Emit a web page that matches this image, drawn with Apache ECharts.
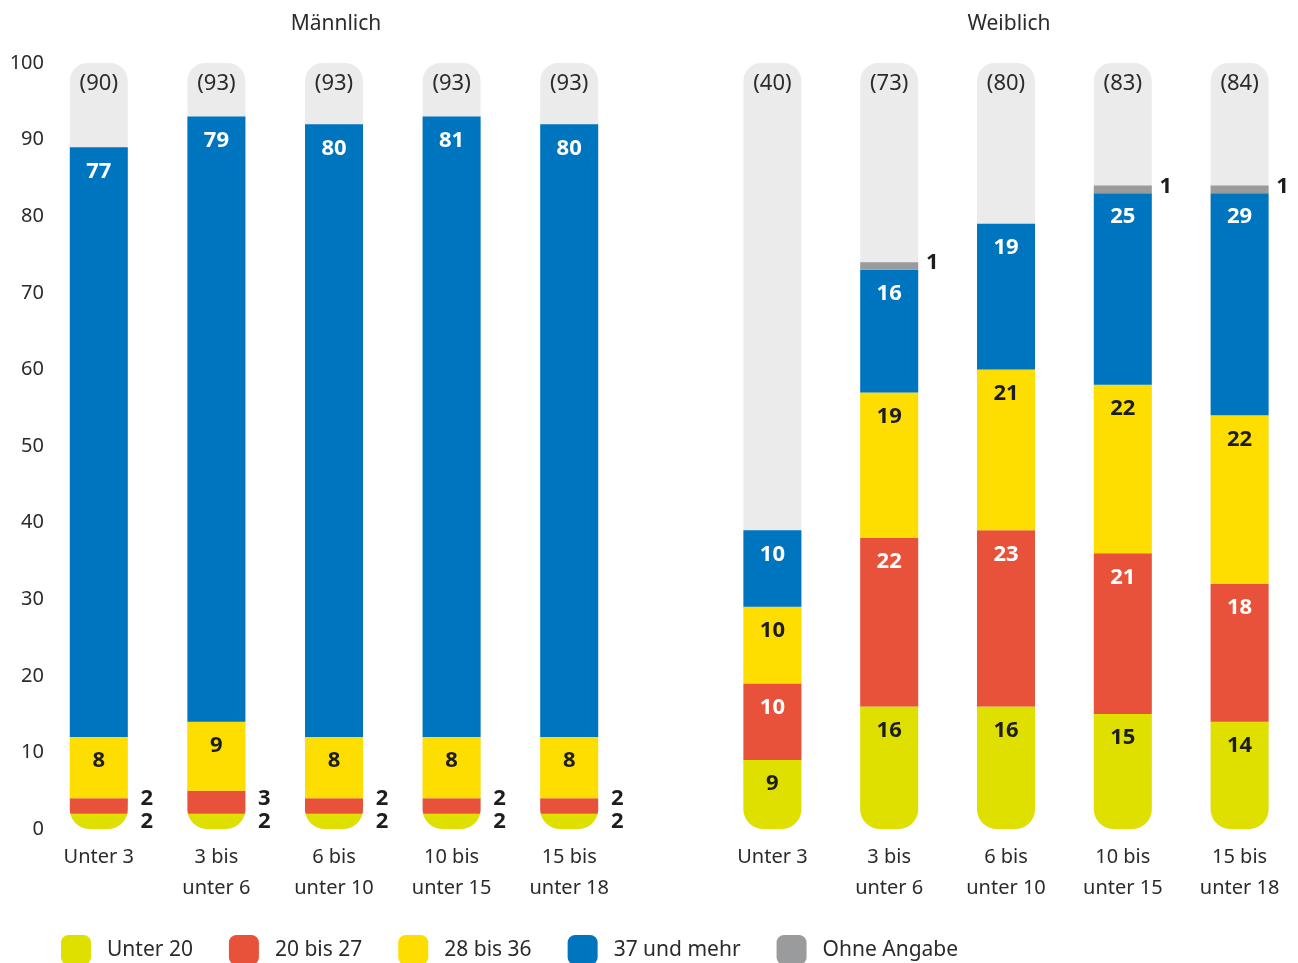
<!DOCTYPE html>
<html>
<head>
<meta charset="utf-8">
<script src="https://cdn.jsdelivr.net/npm/echarts@6/dist/echarts.min.js"></script>
<style>
  html, body { margin: 0; padding: 0; background: #ffffff; }
  #chart { width: 1298px; height: 963px; }
</style>
</head>
<body>
<div id="chart"></div>
<script>
// Age groups of the children (x axis) and the two panels
const categories = ['Unter 3', '3 bis\nunter 6', '6 bis\nunter 10', '10 bis\nunter 15', '15 bis\nunter 18'];
const panelTitles = ['Männlich', 'Weiblich'];
const seriesNames = ['Unter 20', '20 bis 27', '28 bis 36', '37 und mehr', 'Ohne Angabe'];

// Value axis (percent)
const yMin = 0;
const yMax = 100;
const yStep = 10;

// Männlich: shares per working-time group
const maleUnter20 = [2, 2, 2, 2, 2];
const male20bis27 = [2, 3, 2, 2, 2];
const male28bis36 = [8, 9, 8, 8, 8];
const male37undMehr = [77, 79, 80, 81, 80];
const maleOhneAngabe = [0, 0, 0, 0, 0];
const maleTotal = [90, 93, 93, 93, 93];

// Weiblich: shares per working-time group
const femaleUnter20 = [9, 16, 16, 15, 14];
const female20bis27 = [10, 22, 23, 21, 18];
const female28bis36 = [10, 19, 21, 22, 22];
const female37undMehr = [10, 16, 19, 25, 29];
const femaleOhneAngabe = [0, 1, 0, 1, 1];
const femaleTotal = [40, 73, 80, 83, 84];

// ---- styling ----
const FONT = "'Noto Sans', 'Open Sans', sans-serif";
const TEXT = '#2b2b2b';
const COLORS = ['#dfdf00', '#e8513a', '#fedd00', '#0075bf', '#9a9b9d'];
const LABEL_COLORS = ['#1d1d1b', '#ffffff', '#1d1d1b', '#ffffff', '#1d1d1b'];
const TRACK = '#ebebeb';
const BAR_W = 58;
const R_TOP = 18;
const R_BOTTOM = 20;
const SMALL = 5;          // segments below this get their label beside the bar

const panels = [
  { series: [maleUnter20, male20bis27, male28bis36, male37undMehr, maleOhneAngabe], total: maleTotal },
  { series: [femaleUnter20, female20bis27, female28bis36, female37undMehr, femaleOhneAngabe], total: femaleTotal }
];

const grids = [
  { left: 40, width: 588, top: 63, bottom: 134 },
  { left: 714, width: 586, top: 63, bottom: 134 }
];

// horizontal inset of the rounded bar foot at pixel row y
function footInset(y, yZero) {
  const cy = yZero - R_BOTTOM;
  if (y <= cy) return 0;
  const d = Math.min(y - cy, R_BOTTOM);
  return R_BOTTOM - Math.sqrt(R_BOTTOM * R_BOTTOM - d * d);
}

// outline of a stacked segment, clipped to the rounded foot of the bar
function segmentOutline(cx, yTop, yBot, yZero) {
  const ys = [yTop];
  const start = Math.max(yTop, yZero - R_BOTTOM);
  for (let y = Math.floor(start) + 1; y < yBot; y += 0.5) ys.push(y);
  ys.push(yBot);
  const left = ys.map(y => [cx - BAR_W / 2 + footInset(y, yZero), y]);
  const right = ys.slice().reverse().map(y => [cx + BAR_W / 2 - footInset(y, yZero), y]);
  return left.concat(right);
}

function labelText(x, y, text, color, weight) {
  return {
    type: 'text', x: x, y: y, z2: 10,
    style: {
      text: String(text), fill: color, fontSize: 22, fontWeight: weight,
      fontFamily: FONT, align: 'center', verticalAlign: 'middle'
    }
  };
}

function makeSegmentRenderer(k) {
  return function (params, api) {
    const ci = api.value(0);
    const v = api.value(1);
    const base = api.value(2);
    if (!v) return null;
    const pZero = api.coord([ci, 0]);
    const yB = api.coord([ci, base])[1];
    const yT = api.coord([ci, base + v])[1];
    const cx = pZero[0];
    const yZero = pZero[1];
    const children = [{
      type: 'polygon',
      shape: { points: segmentOutline(cx, yT, yB, yZero) },
      style: { fill: COLORS[k] }
    }];
    if (v >= SMALL) {
      children.push(labelText(cx, yT + 24, v, LABEL_COLORS[k], 'bold'));
    } else if (base >= SMALL) {
      // thin segment high up the stack: label beside its upper part
      children.push(labelText(cx + BAR_W / 2 + 14, (yT + yB) / 2 - 3, v, '#1d1d1b', 'bold'));
    } else {
      let ty = (yT + yB) / 2;
      if (base > 0) {
        const below = (yZero + yB) / 2;
        ty = Math.min(ty, below - 23);
      }
      children.push(labelText(cx + BAR_W / 2 + 19, ty, v, '#1d1d1b', 'bold'));
    }
    return { type: 'group', children: children };
  };
}

function renderTrack(params, api) {
  const ci = api.value(0);
  const top = api.value(1);
  const total = api.value(2);
  const p0 = api.coord([ci, yMin]);
  const p1 = api.coord([ci, top]);
  return {
    type: 'group',
    children: [
      {
        type: 'rect',
        shape: { x: p0[0] - BAR_W / 2, y: p1[1], width: BAR_W, height: p0[1] - p1[1],
                 r: [R_TOP, R_TOP, R_BOTTOM, R_BOTTOM] },
        style: { fill: TRACK }
      },
      labelText(p0[0], p1[1] + 21, '(' + total + ')', TEXT, 'normal')
    ]
  };
}

const xAxes = [];
const yAxes = [];
const series = [];

panels.forEach((panel, gi) => {
  xAxes.push({
    type: 'category', gridIndex: gi, data: categories,
    axisLine: { show: false }, axisTick: { show: false }, splitLine: { show: false },
    axisLabel: { fontSize: 20, lineHeight: 31, color: TEXT, fontFamily: FONT, margin: 13, interval: 0 }
  });
  yAxes.push({
    type: 'value', gridIndex: gi, min: yMin, max: yMax, interval: yStep,
    axisLine: { show: false }, axisTick: { show: false }, splitLine: { show: false },
    axisLabel: { show: gi === 0, fontSize: 20, color: TEXT, fontFamily: FONT, margin: -4 }
  });

  series.push({
    type: 'custom', name: 'track' + gi, xAxisIndex: gi, yAxisIndex: gi, z: 1, clip: false,
    silent: true,
    renderItem: renderTrack,
    data: categories.map((c, i) => [i, yMax, panel.total[i]])
  });

  const running = categories.map(() => 0);
  panel.series.forEach((values, k) => {
    const data = values.map((v, i) => {
      const item = [i, v, running[i]];
      running[i] += v;
      return item;
    });
    series.push({
      type: 'custom', name: seriesNames[k], xAxisIndex: gi, yAxisIndex: gi, z: 2, clip: false,
      itemStyle: { color: COLORS[k] },
      encode: { x: 0, y: 1 },
      renderItem: makeSegmentRenderer(k),
      data: data
    });
  });
});

const chart = echarts.init(document.getElementById('chart'), null, { renderer: 'canvas' });
chart.setOption({
  animation: false,
  backgroundColor: '#ffffff',
  textStyle: { fontFamily: FONT },
  grid: grids,
  xAxis: xAxes,
  yAxis: yAxes,
  series: series,
  legend: {
    left: 61, top: 935, padding: 0,
    itemWidth: 30, itemHeight: 30, itemGap: 36,
    icon: 'roundRect',
    selectedMode: false,
    textStyle: { fontSize: 21, color: TEXT, fontFamily: FONT, padding: [0, 0, 0, 11] },
    data: seriesNames.map((n, k) => ({ name: n, itemStyle: { color: COLORS[k] } }))
  },
  graphic: panelTitles.map((t, gi) => ({
    type: 'text',
    x: grids[gi].left + grids[gi].width / 2 + 2,
    y: 24,
    style: { text: t, fontSize: 21, fill: TEXT, fontFamily: FONT, align: 'center', verticalAlign: 'middle' }
  }))
});
</script>
</body>
</html>
